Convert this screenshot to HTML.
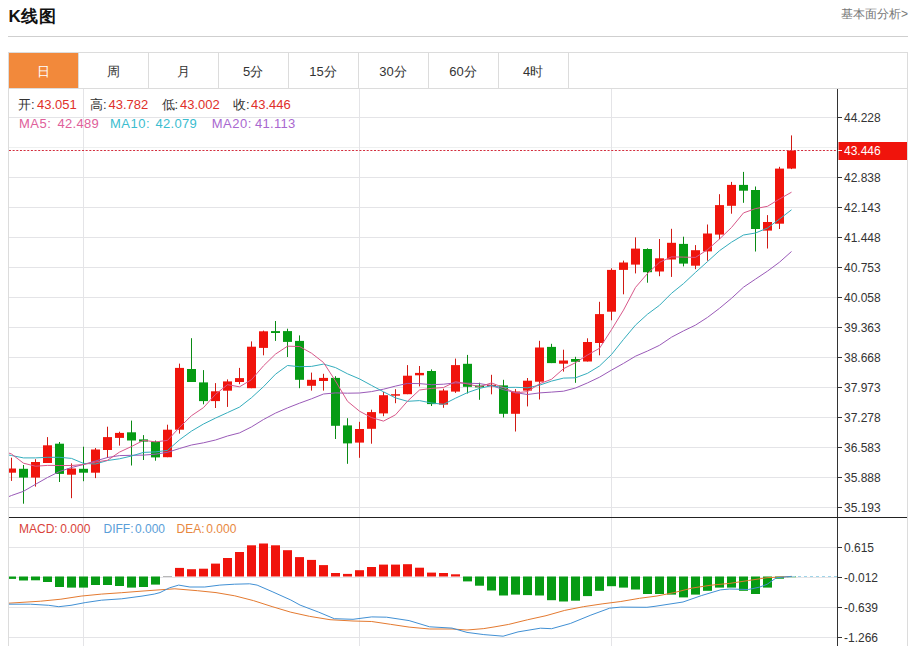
<!DOCTYPE html>
<html><head><meta charset="utf-8">
<style>
html,body{margin:0;padding:0;background:#fff;}
body{width:910px;height:646px;overflow:hidden;position:relative;font-family:"Liberation Sans",sans-serif;color:#333;}
.title{position:absolute;left:8.5px;top:4.7px;font-size:17px;letter-spacing:0.7px;font-weight:bold;color:#111;line-height:24px;}
.link{position:absolute;right:2px;top:6px;font-size:12px;color:#777;line-height:16px;}
.hr{position:absolute;left:8px;top:36px;width:900px;height:1px;background:#cfcfcf;}
.box{position:absolute;left:8px;top:52px;width:898px;height:600px;border:1px solid #dcdcdc;border-bottom:none;}
.tabs{position:absolute;left:8px;top:52px;height:36px;}
.tab{position:absolute;top:1px;width:70px;height:35px;line-height:37px;text-align:center;font-size:13px;color:#333;}
.tab.on{background:#f2893b;color:#fff;}
.tabline{position:absolute;left:8px;top:88px;width:899px;height:1px;background:#dcdcdc;}
.tsep{position:absolute;top:53px;width:1px;height:35px;background:#dcdcdc;}
.ax{position:absolute;left:844px;font-size:12px;line-height:16px;color:#333;}
.info{position:absolute;left:19px;font-size:13px;line-height:16px;white-space:nowrap;}
.info span{display:inline-block;}
.t{position:absolute;font-size:13px;line-height:16px;white-space:nowrap;color:#333;}
.t.r{color:#e0302a;}
.m{position:absolute;top:521px;font-size:12px;line-height:16px;white-space:nowrap;}
svg{position:absolute;left:0;top:0;}
</style></head><body>
<div class="title">K线图</div>
<div class="link">基本面分析&gt;</div>
<div class="hr"></div>
<div class="box"></div>
<svg width="910" height="646" viewBox="0 0 910 646">
<defs><clipPath id="clipm"><rect x="9" y="89" width="828" height="428"/></clipPath>
<clipPath id="clipd"><rect x="9" y="518" width="828" height="128"/></clipPath></defs>
<line x1="9" y1="117.5" x2="837" y2="117.5" stroke="#e4e4e7" stroke-width="1"/>
<line x1="9" y1="147.5" x2="837" y2="147.5" stroke="#eef0f0" stroke-width="1"/>
<line x1="9" y1="177.5" x2="837" y2="177.5" stroke="#e4e4e7" stroke-width="1"/>
<line x1="9" y1="207.5" x2="837" y2="207.5" stroke="#e4e4e7" stroke-width="1"/>
<line x1="9" y1="237.5" x2="837" y2="237.5" stroke="#e4e4e7" stroke-width="1"/>
<line x1="9" y1="267.5" x2="837" y2="267.5" stroke="#e4e4e7" stroke-width="1"/>
<line x1="9" y1="297.5" x2="837" y2="297.5" stroke="#e4e4e7" stroke-width="1"/>
<line x1="9" y1="327.5" x2="837" y2="327.5" stroke="#e4e4e7" stroke-width="1"/>
<line x1="9" y1="357.5" x2="837" y2="357.5" stroke="#e4e4e7" stroke-width="1"/>
<line x1="9" y1="387.5" x2="837" y2="387.5" stroke="#e4e4e7" stroke-width="1"/>
<line x1="9" y1="417.5" x2="837" y2="417.5" stroke="#e4e4e7" stroke-width="1"/>
<line x1="9" y1="447.5" x2="837" y2="447.5" stroke="#e4e4e7" stroke-width="1"/>
<line x1="9" y1="477.5" x2="837" y2="477.5" stroke="#e4e4e7" stroke-width="1"/>
<line x1="9" y1="507.5" x2="837" y2="507.5" stroke="#e4e4e7" stroke-width="1"/>
<line x1="83.5" y1="89" x2="83.5" y2="517" stroke="#e4e4e7" stroke-width="1"/>
<line x1="83.5" y1="518" x2="83.5" y2="646" stroke="#e4e4e7" stroke-width="1"/>
<line x1="359.5" y1="89" x2="359.5" y2="517" stroke="#e4e4e7" stroke-width="1"/>
<line x1="359.5" y1="518" x2="359.5" y2="646" stroke="#e4e4e7" stroke-width="1"/>
<line x1="611.5" y1="89" x2="611.5" y2="517" stroke="#e4e4e7" stroke-width="1"/>
<line x1="611.5" y1="518" x2="611.5" y2="646" stroke="#e4e4e7" stroke-width="1"/>
<line x1="9" y1="547.5" x2="837" y2="547.5" stroke="#e4e4e7" stroke-width="1"/>
<line x1="9" y1="577.5" x2="837" y2="577.5" stroke="#e4e4e7" stroke-width="1"/>
<line x1="9" y1="607.5" x2="837" y2="607.5" stroke="#e4e4e7" stroke-width="1"/>
<line x1="9" y1="637.5" x2="837" y2="637.5" stroke="#e4e4e7" stroke-width="1"/>
<g clip-path="url(#clipm)"><rect x="11.0" y="457.7" width="1" height="23.2" fill="#d01a14"/>
<rect x="7.0" y="468.5" width="9" height="4.2" fill="#f0140c"/>
<rect x="23.0" y="465.0" width="1" height="38.7" fill="#0a8a14"/>
<rect x="19.0" y="468.8" width="9" height="8.8" fill="#069b14"/>
<rect x="35.0" y="459.2" width="1" height="27.4" fill="#d01a14"/>
<rect x="31.0" y="462.0" width="9" height="15.6" fill="#f0140c"/>
<rect x="47.0" y="437.1" width="1" height="25.9" fill="#d01a14"/>
<rect x="43.0" y="445.3" width="9" height="17.7" fill="#f0140c"/>
<rect x="59.0" y="442.0" width="1" height="40.0" fill="#0a8a14"/>
<rect x="55.0" y="443.7" width="9" height="30.2" fill="#069b14"/>
<rect x="71.0" y="463.4" width="1" height="34.8" fill="#d01a14"/>
<rect x="67.0" y="468.5" width="9" height="6.2" fill="#f0140c"/>
<rect x="83.0" y="446.7" width="1" height="34.5" fill="#0a8a14"/>
<rect x="79.0" y="468.8" width="9" height="3.9" fill="#069b14"/>
<rect x="95.0" y="448.0" width="1" height="30.1" fill="#d01a14"/>
<rect x="91.0" y="449.5" width="9" height="23.2" fill="#f0140c"/>
<rect x="107.0" y="426.7" width="1" height="31.3" fill="#d01a14"/>
<rect x="103.0" y="437.1" width="9" height="12.9" fill="#f0140c"/>
<rect x="119.0" y="431.7" width="1" height="13.9" fill="#d01a14"/>
<rect x="115.0" y="432.9" width="9" height="5.0" fill="#f0140c"/>
<rect x="131.0" y="420.6" width="1" height="44.9" fill="#0a8a14"/>
<rect x="127.0" y="432.3" width="9" height="8.2" fill="#069b14"/>
<rect x="143.0" y="435.1" width="1" height="24.9" fill="#0a8a14"/>
<rect x="139.0" y="439.4" width="9" height="2.2" fill="#069b14"/>
<rect x="155.0" y="440.5" width="1" height="20.2" fill="#0a8a14"/>
<rect x="151.0" y="441.6" width="9" height="15.8" fill="#069b14"/>
<rect x="167.0" y="424.7" width="1" height="32.5" fill="#d01a14"/>
<rect x="163.0" y="429.7" width="9" height="27.5" fill="#f0140c"/>
<rect x="179.0" y="363.6" width="1" height="70.0" fill="#d01a14"/>
<rect x="175.0" y="367.9" width="9" height="61.8" fill="#f0140c"/>
<rect x="191.0" y="338.2" width="1" height="43.8" fill="#0a8a14"/>
<rect x="187.0" y="369.0" width="9" height="13.0" fill="#069b14"/>
<rect x="203.0" y="370.1" width="1" height="34.2" fill="#0a8a14"/>
<rect x="199.0" y="382.4" width="9" height="18.7" fill="#069b14"/>
<rect x="215.0" y="383.1" width="1" height="24.9" fill="#d01a14"/>
<rect x="211.0" y="391.3" width="9" height="9.8" fill="#f0140c"/>
<rect x="227.0" y="379.4" width="1" height="27.5" fill="#d01a14"/>
<rect x="223.0" y="381.4" width="9" height="9.3" fill="#f0140c"/>
<rect x="239.0" y="367.9" width="1" height="16.3" fill="#d01a14"/>
<rect x="235.0" y="378.1" width="9" height="3.9" fill="#f0140c"/>
<rect x="251.0" y="341.4" width="1" height="46.8" fill="#d01a14"/>
<rect x="247.0" y="346.7" width="9" height="41.5" fill="#f0140c"/>
<rect x="263.0" y="330.6" width="1" height="24.7" fill="#d01a14"/>
<rect x="259.0" y="331.3" width="9" height="16.6" fill="#f0140c"/>
<rect x="275.0" y="321.0" width="1" height="19.9" fill="#0a8a14"/>
<rect x="271.0" y="331.1" width="9" height="1.9" fill="#069b14"/>
<rect x="287.0" y="328.7" width="1" height="28.3" fill="#0a8a14"/>
<rect x="283.0" y="331.1" width="9" height="10.8" fill="#069b14"/>
<rect x="299.0" y="335.4" width="1" height="52.8" fill="#0a8a14"/>
<rect x="295.0" y="340.9" width="9" height="38.9" fill="#069b14"/>
<rect x="311.0" y="372.6" width="1" height="18.0" fill="#d01a14"/>
<rect x="307.0" y="379.8" width="9" height="6.0" fill="#f0140c"/>
<rect x="323.0" y="373.8" width="1" height="16.8" fill="#d01a14"/>
<rect x="319.0" y="377.9" width="9" height="3.1" fill="#f0140c"/>
<rect x="335.0" y="376.2" width="1" height="62.8" fill="#0a8a14"/>
<rect x="331.0" y="377.9" width="9" height="47.9" fill="#069b14"/>
<rect x="347.0" y="418.2" width="1" height="45.6" fill="#0a8a14"/>
<rect x="343.0" y="425.4" width="9" height="18.0" fill="#069b14"/>
<rect x="359.0" y="421.8" width="1" height="36.0" fill="#d01a14"/>
<rect x="355.0" y="429.0" width="9" height="13.6" fill="#f0140c"/>
<rect x="371.0" y="409.7" width="1" height="34.0" fill="#d01a14"/>
<rect x="367.0" y="412.1" width="9" height="16.7" fill="#f0140c"/>
<rect x="383.0" y="392.0" width="1" height="24.2" fill="#d01a14"/>
<rect x="379.0" y="395.2" width="9" height="18.2" fill="#f0140c"/>
<rect x="395.0" y="389.2" width="1" height="14.0" fill="#d01a14"/>
<rect x="391.0" y="394.2" width="9" height="1.5" fill="#f0140c"/>
<rect x="407.0" y="365.1" width="1" height="29.1" fill="#d01a14"/>
<rect x="403.0" y="375.7" width="9" height="18.5" fill="#f0140c"/>
<rect x="419.0" y="366.0" width="1" height="20.4" fill="#d01a14"/>
<rect x="415.0" y="372.9" width="9" height="2.4" fill="#f0140c"/>
<rect x="431.0" y="369.4" width="1" height="36.6" fill="#0a8a14"/>
<rect x="427.0" y="371.0" width="9" height="33.1" fill="#069b14"/>
<rect x="443.0" y="388.7" width="1" height="19.1" fill="#d01a14"/>
<rect x="439.0" y="390.5" width="9" height="14.1" fill="#f0140c"/>
<rect x="455.0" y="358.6" width="1" height="34.3" fill="#d01a14"/>
<rect x="451.0" y="365.1" width="9" height="26.5" fill="#f0140c"/>
<rect x="467.0" y="354.9" width="1" height="38.6" fill="#0a8a14"/>
<rect x="463.0" y="363.8" width="9" height="23.0" fill="#069b14"/>
<rect x="479.0" y="382.7" width="1" height="17.1" fill="#0a8a14"/>
<rect x="475.0" y="385.5" width="9" height="1.9" fill="#069b14"/>
<rect x="491.0" y="374.8" width="1" height="19.5" fill="#d01a14"/>
<rect x="487.0" y="384.8" width="9" height="1.4" fill="#f0140c"/>
<rect x="503.0" y="379.8" width="1" height="37.7" fill="#0a8a14"/>
<rect x="499.0" y="385.4" width="9" height="28.4" fill="#069b14"/>
<rect x="515.0" y="389.1" width="1" height="42.4" fill="#d01a14"/>
<rect x="511.0" y="391.5" width="9" height="22.3" fill="#f0140c"/>
<rect x="527.0" y="378.0" width="1" height="28.4" fill="#d01a14"/>
<rect x="523.0" y="380.7" width="9" height="9.9" fill="#f0140c"/>
<rect x="539.0" y="340.8" width="1" height="58.7" fill="#d01a14"/>
<rect x="535.0" y="347.5" width="9" height="34.2" fill="#f0140c"/>
<rect x="551.0" y="343.8" width="1" height="19.3" fill="#0a8a14"/>
<rect x="547.0" y="346.9" width="9" height="16.2" fill="#069b14"/>
<rect x="563.0" y="349.7" width="1" height="21.9" fill="#d01a14"/>
<rect x="559.0" y="360.5" width="9" height="3.2" fill="#f0140c"/>
<rect x="575.0" y="356.8" width="1" height="26.0" fill="#0a8a14"/>
<rect x="571.0" y="359.0" width="9" height="2.8" fill="#069b14"/>
<rect x="587.0" y="338.3" width="1" height="23.2" fill="#d01a14"/>
<rect x="583.0" y="342.0" width="9" height="19.5" fill="#f0140c"/>
<rect x="599.0" y="301.8" width="1" height="53.5" fill="#d01a14"/>
<rect x="595.0" y="314.1" width="9" height="28.9" fill="#f0140c"/>
<rect x="611.0" y="268.3" width="1" height="52.0" fill="#d01a14"/>
<rect x="607.0" y="269.9" width="9" height="41.8" fill="#f0140c"/>
<rect x="623.0" y="260.6" width="1" height="33.7" fill="#d01a14"/>
<rect x="619.0" y="262.5" width="9" height="7.4" fill="#f0140c"/>
<rect x="635.0" y="237.4" width="1" height="36.0" fill="#d01a14"/>
<rect x="631.0" y="248.6" width="9" height="16.0" fill="#f0140c"/>
<rect x="647.0" y="248.3" width="1" height="34.4" fill="#0a8a14"/>
<rect x="643.0" y="249.0" width="9" height="23.2" fill="#069b14"/>
<rect x="659.0" y="239.0" width="1" height="37.2" fill="#d01a14"/>
<rect x="655.0" y="258.3" width="9" height="13.2" fill="#f0140c"/>
<rect x="671.0" y="228.8" width="1" height="48.1" fill="#d01a14"/>
<rect x="667.0" y="242.8" width="9" height="16.7" fill="#f0140c"/>
<rect x="683.0" y="236.7" width="1" height="29.7" fill="#0a8a14"/>
<rect x="679.0" y="243.9" width="9" height="19.7" fill="#069b14"/>
<rect x="695.0" y="245.1" width="1" height="24.1" fill="#d01a14"/>
<rect x="691.0" y="250.2" width="9" height="15.5" fill="#f0140c"/>
<rect x="707.0" y="224.5" width="1" height="36.2" fill="#d01a14"/>
<rect x="703.0" y="233.5" width="9" height="17.9" fill="#f0140c"/>
<rect x="719.0" y="194.2" width="1" height="45.0" fill="#d01a14"/>
<rect x="715.0" y="205.1" width="9" height="29.5" fill="#f0140c"/>
<rect x="731.0" y="181.9" width="1" height="31.8" fill="#d01a14"/>
<rect x="727.0" y="184.9" width="9" height="20.9" fill="#f0140c"/>
<rect x="743.0" y="171.9" width="1" height="30.9" fill="#0a8a14"/>
<rect x="739.0" y="184.9" width="9" height="5.8" fill="#069b14"/>
<rect x="755.0" y="186.5" width="1" height="65.0" fill="#0a8a14"/>
<rect x="751.0" y="190.0" width="9" height="39.0" fill="#069b14"/>
<rect x="767.0" y="215.1" width="1" height="33.4" fill="#d01a14"/>
<rect x="763.0" y="222.0" width="9" height="8.6" fill="#f0140c"/>
<rect x="779.0" y="166.8" width="1" height="62.2" fill="#d01a14"/>
<rect x="775.0" y="168.6" width="9" height="55.1" fill="#f0140c"/>
<rect x="791.0" y="135.4" width="1" height="33.7" fill="#d01a14"/>
<rect x="787.0" y="150.5" width="9" height="18.1" fill="#f0140c"/>
<polyline points="-0.5,500.5 11.5,495.5 23.5,491.3 35.5,484.3 47.5,477.5 59.5,471.5 71.5,467.5 83.5,464.5 95.5,461.0 107.5,457.5 119.5,455.6 131.5,455.3 143.5,455.1 155.5,454.2 167.5,452.3 179.5,448.5 191.5,445.0 203.5,442.8 215.5,440.0 227.5,436.0 239.5,432.9 251.5,426.9 263.5,419.5 275.5,413.1 287.5,407.9 299.5,403.2 311.5,398.8 323.5,394.0 335.5,392.9 347.5,393.2 359.5,393.0 371.5,391.6 383.5,389.2 395.5,386.1 407.5,383.4 419.5,383.6 431.5,384.7 443.5,384.2 455.5,382.9 467.5,383.2 479.5,383.6 491.5,385.5 503.5,389.7 515.5,392.6 527.5,394.5 539.5,392.9 551.5,392.1 563.5,391.2 575.5,388.0 587.5,382.9 599.5,377.2 611.5,370.1 623.5,363.4 635.5,356.2 647.5,351.0 659.5,345.3 671.5,337.2 683.5,330.9 695.5,325.1 707.5,317.4 719.5,308.3 731.5,298.3 743.5,287.2 755.5,279.1 767.5,271.1 779.5,262.2 791.5,251.5" fill="none" stroke="#9a5ab8" stroke-width="1" stroke-linejoin="round"/>
<polyline points="-0.5,453.5 11.5,455.5 23.5,457.9 35.5,457.9 47.5,457.3 59.5,457.3 71.5,458.4 83.5,463.4 95.5,464.0 107.5,460.5 119.5,458.8 131.5,456.0 143.5,452.4 155.5,451.9 167.5,450.4 179.5,439.8 191.5,431.1 203.5,424.0 215.5,418.1 227.5,412.6 239.5,407.1 251.5,397.7 263.5,386.7 275.5,374.2 287.5,365.5 299.5,366.7 311.5,366.4 323.5,364.1 335.5,367.6 347.5,373.8 359.5,378.9 371.5,385.4 383.5,391.8 395.5,397.9 407.5,401.3 419.5,400.6 431.5,403.0 443.5,404.3 455.5,398.2 467.5,392.6 479.5,388.4 491.5,385.7 503.5,387.5 515.5,387.3 527.5,387.8 539.5,385.2 551.5,381.1 563.5,378.1 575.5,377.8 587.5,373.3 599.5,366.0 611.5,354.5 623.5,339.4 635.5,325.1 647.5,314.2 659.5,305.3 671.5,293.3 683.5,283.6 695.5,272.4 707.5,261.6 719.5,250.7 731.5,242.2 743.5,235.0 755.5,233.0 767.5,228.0 779.5,219.0 791.5,209.8" fill="none" stroke="#34adbd" stroke-width="1" stroke-linejoin="round"/>
<polyline points="-0.5,449.5 11.5,454.0 23.5,463.2 35.5,466.2 47.5,465.4 59.5,465.5 71.5,465.5 83.5,464.5 95.5,462.0 107.5,460.3 119.5,452.1 131.5,446.5 143.5,440.3 155.5,441.9 167.5,440.4 179.5,427.4 191.5,415.7 203.5,407.6 215.5,394.4 227.5,384.7 239.5,386.8 251.5,379.7 263.5,365.8 275.5,354.1 287.5,346.2 299.5,346.5 311.5,353.2 323.5,362.5 335.5,381.0 347.5,401.3 359.5,411.2 371.5,417.6 383.5,421.1 395.5,414.8 407.5,401.2 419.5,390.0 431.5,388.4 443.5,387.5 455.5,381.7 467.5,383.9 479.5,386.8 491.5,382.9 503.5,387.6 515.5,392.9 527.5,391.6 539.5,383.7 551.5,379.3 563.5,368.7 575.5,362.7 587.5,355.0 599.5,348.3 611.5,329.7 623.5,310.1 635.5,287.4 647.5,273.5 659.5,262.3 671.5,256.9 683.5,257.1 695.5,257.4 707.5,249.7 719.5,239.0 731.5,227.5 743.5,212.9 755.5,208.6 767.5,206.3 779.5,199.0 791.5,192.2" fill="none" stroke="#d8588a" stroke-width="1" stroke-linejoin="round"/></g>
<g clip-path="url(#clipd)"><rect x="7.0" y="576.5" width="9" height="2.4" fill="#069b14"/>
<rect x="19.0" y="576.5" width="9" height="4.0" fill="#069b14"/>
<rect x="31.0" y="576.5" width="9" height="3.8" fill="#069b14"/>
<rect x="43.0" y="576.5" width="9" height="5.5" fill="#069b14"/>
<rect x="55.0" y="576.5" width="9" height="10.5" fill="#069b14"/>
<rect x="67.0" y="576.5" width="9" height="11.1" fill="#069b14"/>
<rect x="79.0" y="576.5" width="9" height="11.1" fill="#069b14"/>
<rect x="91.0" y="576.5" width="9" height="8.5" fill="#069b14"/>
<rect x="103.0" y="576.5" width="9" height="8.5" fill="#069b14"/>
<rect x="115.0" y="576.5" width="9" height="9.5" fill="#069b14"/>
<rect x="127.0" y="576.5" width="9" height="11.1" fill="#069b14"/>
<rect x="139.0" y="576.5" width="9" height="10.5" fill="#069b14"/>
<rect x="151.0" y="576.5" width="9" height="8.1" fill="#069b14"/>
<rect x="163.0" y="576" width="9" height="1" fill="#b8b8b8"/>
<rect x="175.0" y="567.9" width="9" height="8.6" fill="#f0140c"/>
<rect x="187.0" y="569.2" width="9" height="7.3" fill="#f0140c"/>
<rect x="199.0" y="568.7" width="9" height="7.8" fill="#f0140c"/>
<rect x="211.0" y="563.6" width="9" height="12.9" fill="#f0140c"/>
<rect x="223.0" y="558.0" width="9" height="18.5" fill="#f0140c"/>
<rect x="235.0" y="552.0" width="9" height="24.5" fill="#f0140c"/>
<rect x="247.0" y="545.3" width="9" height="31.2" fill="#f0140c"/>
<rect x="259.0" y="543.5" width="9" height="33.0" fill="#f0140c"/>
<rect x="271.0" y="545.3" width="9" height="31.2" fill="#f0140c"/>
<rect x="283.0" y="550.2" width="9" height="26.3" fill="#f0140c"/>
<rect x="295.0" y="557.1" width="9" height="19.4" fill="#f0140c"/>
<rect x="307.0" y="559.9" width="9" height="16.6" fill="#f0140c"/>
<rect x="319.0" y="565.1" width="9" height="11.4" fill="#f0140c"/>
<rect x="331.0" y="573.0" width="9" height="3.5" fill="#f0140c"/>
<rect x="343.0" y="573.9" width="9" height="2.6" fill="#f0140c"/>
<rect x="355.0" y="570.2" width="9" height="6.3" fill="#f0140c"/>
<rect x="367.0" y="567.0" width="9" height="9.5" fill="#f0140c"/>
<rect x="379.0" y="564.6" width="9" height="11.9" fill="#f0140c"/>
<rect x="391.0" y="564.6" width="9" height="11.9" fill="#f0140c"/>
<rect x="403.0" y="564.2" width="9" height="12.3" fill="#f0140c"/>
<rect x="415.0" y="567.7" width="9" height="8.8" fill="#f0140c"/>
<rect x="427.0" y="572.6" width="9" height="3.9" fill="#f0140c"/>
<rect x="439.0" y="573.0" width="9" height="3.5" fill="#f0140c"/>
<rect x="451.0" y="574.3" width="9" height="2.2" fill="#f0140c"/>
<rect x="463.0" y="576.5" width="9" height="4.9" fill="#069b14"/>
<rect x="475.0" y="576.5" width="9" height="9.2" fill="#069b14"/>
<rect x="487.0" y="576.5" width="9" height="14.0" fill="#069b14"/>
<rect x="499.0" y="576.5" width="9" height="19.0" fill="#069b14"/>
<rect x="511.0" y="576.5" width="9" height="18.1" fill="#069b14"/>
<rect x="523.0" y="576.5" width="9" height="18.6" fill="#069b14"/>
<rect x="535.0" y="576.5" width="9" height="19.0" fill="#069b14"/>
<rect x="547.0" y="576.5" width="9" height="23.7" fill="#069b14"/>
<rect x="559.0" y="576.5" width="9" height="25.0" fill="#069b14"/>
<rect x="571.0" y="576.5" width="9" height="24.2" fill="#069b14"/>
<rect x="583.0" y="576.5" width="9" height="19.6" fill="#069b14"/>
<rect x="595.0" y="576.5" width="9" height="14.3" fill="#069b14"/>
<rect x="607.0" y="576.5" width="9" height="9.7" fill="#069b14"/>
<rect x="619.0" y="576.5" width="9" height="11.1" fill="#069b14"/>
<rect x="631.0" y="576.5" width="9" height="13.0" fill="#069b14"/>
<rect x="643.0" y="576.5" width="9" height="17.5" fill="#069b14"/>
<rect x="655.0" y="576.5" width="9" height="17.5" fill="#069b14"/>
<rect x="667.0" y="576.5" width="9" height="18.1" fill="#069b14"/>
<rect x="679.0" y="576.5" width="9" height="20.9" fill="#069b14"/>
<rect x="691.0" y="576.5" width="9" height="18.1" fill="#069b14"/>
<rect x="703.0" y="576.5" width="9" height="14.3" fill="#069b14"/>
<rect x="715.0" y="576.5" width="9" height="11.1" fill="#069b14"/>
<rect x="727.0" y="576.5" width="9" height="11.1" fill="#069b14"/>
<rect x="739.0" y="576.5" width="9" height="14.3" fill="#069b14"/>
<rect x="751.0" y="576.5" width="9" height="17.5" fill="#069b14"/>
<rect x="763.0" y="576.5" width="9" height="11.1" fill="#069b14"/>
<rect x="775.0" y="576.5" width="9" height="2.2" fill="#069b14"/>
<rect x="787.0" y="576.5" width="9" height="0.7" fill="#069b14"/><polyline points="8.5,603.2 40.6,601.2 60.9,599.2 81.1,596.1 101.4,594.1 121.7,592.7 142.0,591.1 160.0,589.8 174.9,588.8 197.4,590.7 216.0,592.6 234.7,595.8 253.4,600.6 272.1,606.6 290.8,612.2 309.4,616.3 330.0,619.7 353.0,621.0 371.7,621.5 390.4,624.3 409.1,627.1 429.6,629.0 452.0,629.0 467.0,630.0 483.8,628.6 495.0,626.8 508.7,624.4 527.4,619.8 546.0,615.7 564.7,610.4 583.4,606.7 602.1,603.9 620.8,601.5 639.5,598.3 657.0,596.0 673.7,592.7 692.4,588.0 711.0,585.2 729.7,583.4 748.4,580.5 767.1,577.7 791.6,576.4" fill="none" stroke="#e47a30" stroke-width="1" stroke-linejoin="round"/>
<polyline points="8.5,604.2 30.4,604.2 48.7,605.3 58.8,606.7 71.0,605.3 85.2,602.6 101.4,600.2 121.7,598.8 142.0,596.1 154.2,594.1 160.0,592.6 169.3,587.9 178.7,585.1 189.9,587.0 204.8,587.0 219.8,585.1 234.7,584.2 249.7,583.8 257.1,585.1 272.1,591.6 290.8,600.0 300.1,605.1 318.8,612.2 330.0,616.9 334.3,618.7 353.0,619.3 371.7,616.9 386.6,617.2 409.1,620.6 429.6,626.8 452.0,628.1 467.0,632.4 483.8,634.6 495.0,635.5 503.1,636.2 518.0,631.9 540.4,628.2 551.6,628.7 570.3,623.5 590.9,615.1 609.6,608.2 620.8,607.1 646.9,607.3 655.0,606.3 683.0,602.0 701.7,595.5 720.4,589.9 729.7,589.0 748.4,589.5 759.6,587.1 767.1,584.3 776.4,577.7 791.6,576.4" fill="none" stroke="#4190d4" stroke-width="1" stroke-linejoin="round"/></g>
<line x1="837.5" y1="89" x2="837.5" y2="646" stroke="#333" stroke-width="1"/><line x1="9" y1="517.5" x2="907" y2="517.5" stroke="#222" stroke-width="1"/><line x1="838" y1="117.5" x2="842" y2="117.5" stroke="#333" stroke-width="1"/><line x1="838" y1="177.5" x2="842" y2="177.5" stroke="#333" stroke-width="1"/><line x1="838" y1="207.5" x2="842" y2="207.5" stroke="#333" stroke-width="1"/><line x1="838" y1="237.5" x2="842" y2="237.5" stroke="#333" stroke-width="1"/><line x1="838" y1="267.5" x2="842" y2="267.5" stroke="#333" stroke-width="1"/><line x1="838" y1="297.5" x2="842" y2="297.5" stroke="#333" stroke-width="1"/><line x1="838" y1="327.5" x2="842" y2="327.5" stroke="#333" stroke-width="1"/><line x1="838" y1="357.5" x2="842" y2="357.5" stroke="#333" stroke-width="1"/><line x1="838" y1="387.5" x2="842" y2="387.5" stroke="#333" stroke-width="1"/><line x1="838" y1="417.5" x2="842" y2="417.5" stroke="#333" stroke-width="1"/><line x1="838" y1="447.5" x2="842" y2="447.5" stroke="#333" stroke-width="1"/><line x1="838" y1="477.5" x2="842" y2="477.5" stroke="#333" stroke-width="1"/><line x1="838" y1="507.5" x2="842" y2="507.5" stroke="#333" stroke-width="1"/><line x1="838" y1="547.5" x2="842" y2="547.5" stroke="#333" stroke-width="1"/><line x1="838" y1="577.5" x2="842" y2="577.5" stroke="#333" stroke-width="1"/><line x1="838" y1="607.5" x2="842" y2="607.5" stroke="#333" stroke-width="1"/><line x1="838" y1="637.5" x2="842" y2="637.5" stroke="#333" stroke-width="1"/><line x1="9" y1="150.5" x2="837" y2="150.5" stroke="#d22c3c" stroke-width="1" stroke-dasharray="2,1.65"/><rect x="838.5" y="142" width="68.5" height="18" fill="#f0140c"/><line x1="838" y1="150.5" x2="842" y2="150.5" stroke="#fff" stroke-width="1"/><line x1="792" y1="576.5" x2="837" y2="576.5" stroke="#9fd4e8" stroke-width="1" stroke-dasharray="3,3"/>
</svg>
<div class="tabs">
<div class="tab on" style="left:1px;width:69px;">日</div>
<div class="tab" style="left:70px">周</div>
<div class="tab" style="left:140px">月</div>
<div class="tab" style="left:210px">5分</div>
<div class="tab" style="left:280px">15分</div>
<div class="tab" style="left:350px">30分</div>
<div class="tab" style="left:420px">60分</div>
<div class="tab" style="left:490px">4时</div>
</div>
<div class="tsep" style="left:78px"></div><div class="tsep" style="left:148px"></div><div class="tsep" style="left:218px"></div><div class="tsep" style="left:288px"></div><div class="tsep" style="left:358px"></div><div class="tsep" style="left:428px"></div><div class="tsep" style="left:498px"></div><div class="tsep" style="left:568px"></div>
<div class="tabline"></div>
<div class="t" style="left:18px;top:97px">开:</div><div class="t r" style="left:37px;top:97px">43.051</div>
<div class="t" style="left:90px;top:97px">高:</div><div class="t r" style="left:108.5px;top:97px">43.782</div>
<div class="t" style="left:161.5px;top:97px">低:</div><div class="t r" style="left:180px;top:97px">43.002</div>
<div class="t" style="left:233px;top:97px">收:</div><div class="t r" style="left:251px;top:97px">43.446</div>
<div class="t" style="left:19px;top:116px;letter-spacing:0.5px;color:#e0609a">MA5:</div><div class="t" style="left:57.5px;top:116px;letter-spacing:0.3px;color:#e0609a">42.489</div>
<div class="t" style="left:110px;top:116px;letter-spacing:0.5px;color:#3bbdcf">MA10:</div><div class="t" style="left:155.5px;top:116px;letter-spacing:0.3px;color:#3bbdcf">42.079</div>
<div class="t" style="left:211.7px;top:116px;letter-spacing:0.5px;color:#a968cf">MA20:</div><div class="t" style="left:255px;top:116px;letter-spacing:0.3px;color:#a968cf">41.113</div>
<div class="m" style="left:19px;color:#d9433a">MACD:</div><div class="m" style="left:60.3px;color:#d9433a">0.000</div>
<div class="m" style="left:103.5px;color:#5a9ed8">DIFF:</div><div class="m" style="left:135px;color:#5a9ed8">0.000</div>
<div class="m" style="left:176.5px;color:#e8883e">DEA:</div><div class="m" style="left:206.3px;color:#e8883e">0.000</div>
<div class="ax" style="top:109.5px">44.228</div><div class="ax" style="top:169.5px">42.838</div><div class="ax" style="top:199.5px">42.143</div><div class="ax" style="top:229.5px">41.448</div><div class="ax" style="top:259.5px">40.753</div><div class="ax" style="top:289.5px">40.058</div><div class="ax" style="top:319.5px">39.363</div><div class="ax" style="top:349.5px">38.668</div><div class="ax" style="top:379.5px">37.973</div><div class="ax" style="top:409.5px">37.278</div><div class="ax" style="top:439.5px">36.583</div><div class="ax" style="top:469.5px">35.888</div><div class="ax" style="top:499.5px">35.193</div><div class="ax" style="top:539.5px">0.615</div><div class="ax" style="top:569.5px">-0.012</div><div class="ax" style="top:599.5px">-0.639</div><div class="ax" style="top:629.5px">-1.266</div>
<div class="ax" style="top:143px;color:#fff;line-height:16px;">43.446</div>
</body></html>
